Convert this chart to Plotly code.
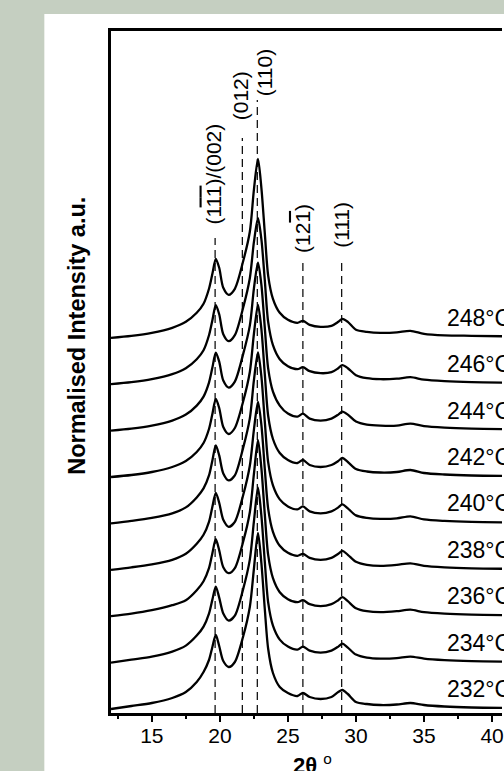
import plotly.graph_objects as go

# ---------------- data ----------------
two_theta = [12.0, 13.5, 15.0, 16.5, 17.5, 18.3, 18.8, 19.2, 19.45, 19.7, 19.95, 20.25, 20.65,
             21.1, 21.7, 22.2, 22.5, 22.8, 23.05, 23.3, 23.55, 23.9, 24.4, 25.0, 25.7, 26.1,
             26.6, 27.4, 28.2, 28.7, 29.0, 29.4, 30.0, 30.8, 31.8, 33.0, 34.0, 35.0, 36.5,
             38.5, 41.0]

temperatures = ["232", "234", "236", "238", "240", "242", "244", "246", "248"]

i_232 = [0, 3, 6, 11, 17, 27, 37, 49, 62, 74, 63, 48, 42, 47, 72, 102, 140, 176, 146, 100, 60, 36, 22, 16, 13, 16, 12, 10, 12, 17, 19, 15, 7, 5, 4, 4.5, 6, 4, 2.5, 1.5, 1]
i_234 = [0, 3, 6, 11, 17, 27, 36, 49, 63, 76, 65, 49, 42, 47, 73, 103, 141, 175, 147, 101, 60, 37, 23, 16, 13, 16, 12, 10, 12, 16, 19, 15, 8, 5, 4, 4.5, 6, 4, 2.5, 1.5, 1]
i_236 = [0, 2.5, 6, 11, 16, 26, 35, 48, 63, 77, 66, 49, 43, 48, 74, 104, 142, 176, 148, 102, 61, 38, 24, 17, 14, 16, 12, 10, 12, 16, 19, 15, 8, 5, 4, 5, 6.5, 4, 2.5, 1.5, 1]
i_238 = [0, 2.5, 5.5, 10, 16, 26, 35, 48, 63, 77, 67, 50, 43, 48, 74, 104, 140, 168, 145, 101, 61, 38, 24, 17, 14, 16, 12, 10, 12, 16, 19, 15, 8, 5, 4, 5, 6.5, 4, 2.5, 1.5, 1]
i_240 = [0, 2.5, 5.5, 10, 16, 26, 35, 48, 63, 78, 68, 50, 43, 48, 75, 105, 143, 171, 147, 102, 61, 38, 24, 17, 14, 17, 12, 10, 12, 16, 19, 15, 8, 5.5, 4.5, 5, 7, 4, 2.5, 1.5, 1]
i_242 = [0, 2, 5, 10, 16, 25, 34, 48, 63, 78, 69, 50, 43, 49, 75, 105, 143, 172, 148, 103, 61, 38, 24, 17, 14, 17, 12, 10, 12, 16, 19, 15, 8, 5.5, 4.5, 5, 7, 4, 2.5, 1.5, 1]
i_244 = [0, 2, 5, 10, 16, 25, 34, 48, 63, 78, 69, 50, 43, 49, 76, 105, 142, 168, 146, 103, 62, 39, 25, 17, 14, 17, 12, 10, 12, 16, 19, 16, 9, 6, 5, 5, 7, 4.5, 3, 2, 1.5]
i_246 = [0, 2, 5, 10, 16, 25, 34, 49, 64, 79, 70, 50, 43, 49, 76, 106, 142, 166, 145, 104, 62, 39, 25, 18, 15, 17, 13, 11, 12, 16, 19, 16, 9, 6, 5, 5.5, 7, 4.5, 3, 2, 1.5]
i_248 = [0, 2, 5, 10, 16, 25, 34, 49, 64, 79, 70, 50, 43, 49, 76, 106, 148, 179, 150, 105, 62, 39, 25, 18, 15, 17, 13, 11, 12, 16, 19, 16, 8, 6, 5, 5.5, 7, 4, 2.5, 2, 1.5]

intensities = [i_232, i_234, i_236, i_238, i_240, i_242, i_244, i_246, i_248]
stack_offsets = [4, 50.4, 96.8, 143.2, 189.6, 236, 282.4, 328.8, 375.2]

peak_positions = [19.65, 21.65, 22.75, 26.1, 28.95]
peak_labels = ["(1<span style='text-decoration:overline'>1</span><span style='text-decoration:overline'>1</span>)/(002)",
               "(012)", "(110)",
               "(12<span style='text-decoration:overline'>1</span>)", "(111)"]
x_ticks = [15, 20, 25, 30, 35, 40]

# ---------------- layout helpers (positions, not data) ----------------
guide_tops = [475, 575, 613, 451, 455]
label_x = [19.46, 21.5, 23.26, 26.03, 28.89]
label_y = [539, 617, 640, 485, 488]
temp_label_x = 36.55
temp_label_dy = 20

FONT = "Liberation Sans, Arial, sans-serif"

fig = go.Figure()

# dashed guide lines
for px, top in zip(peak_positions, guide_tops):
    fig.add_trace(go.Scatter(x=[px, px], y=[0, top], mode="lines",
                             line=dict(color="black", width=1.2, dash="8px,5px"),
                             hoverinfo="skip", showlegend=False))

# stacked patterns
for t, inten, off in zip(temperatures, intensities, stack_offsets):
    fig.add_trace(go.Scatter(x=two_theta, y=[v + off for v in inten], mode="lines",
                             line=dict(color="black", width=2.3, shape="spline", smoothing=0.8),
                             name=t + "°C", showlegend=False))
    fig.add_annotation(x=temp_label_x, y=off + temp_label_dy, xref="x", yref="y",
                       text=t + "°C", showarrow=False, xanchor="left", yanchor="middle",
                       font=dict(family=FONT, size=23, color="black"))

# peak labels
for txt, lx, ly in zip(peak_labels, label_x, label_y):
    fig.add_annotation(x=lx, y=ly, xref="x", yref="y", text=txt, textangle=-90,
                       showarrow=False, xanchor="center", yanchor="middle",
                       font=dict(family=FONT, size=21, color="black"))

# axis titles
fig.add_annotation(x=-0.087, y=0.553, xref="paper", yref="paper",
                   text="<b>Normalised Intensity a.u.</b>", textangle=-90, showarrow=False,
                   xanchor="center", yanchor="middle",
                   font=dict(family=FONT, size=23.5, color="black"))
fig.add_annotation(x=0.515, y=-0.052, xref="paper", yref="paper",
                   text="<b>2θ</b> <sup>o</sup>", showarrow=False,
                   xanchor="center", yanchor="top",
                   font=dict(family=FONT, size=22, color="black"))

# white panel
fig.add_shape(type="rect", xref="paper", yref="paper", x0=-0.1705, x1=1.2, y0=-0.3, y1=1.0249,
              fillcolor="white", line=dict(width=0), layer="below")

fig.update_layout(
    width=504, height=771,
    margin=dict(l=111, r=0, t=31, b=58),
    paper_bgcolor="#c5cfc1",
    plot_bgcolor="white",
    font=dict(family=FONT, color="black"),
    showlegend=False,
)
fig.update_xaxes(range=[12, 40.73], tickvals=x_ticks, ticks="outside", ticklen=6, tickwidth=2,
                 tickcolor="black", showline=True, linewidth=2.6, linecolor="black", mirror=True,
                 showgrid=False, zeroline=False, tickfont=dict(family=FONT, size=21),
                 ticklabeloverflow="allow", ticklabelstandoff=-4,
                 minor=dict(dtick=2.5, tick0=0, ticks="outside", ticklen=3, tickwidth=2,
                            tickcolor="black", showgrid=False))
fig.update_yaxes(range=[0, 682], showticklabels=False, ticks="", showline=True, linewidth=2.6,
                 linecolor="black", showgrid=False, zeroline=False)

fig.write_html("out.html")
